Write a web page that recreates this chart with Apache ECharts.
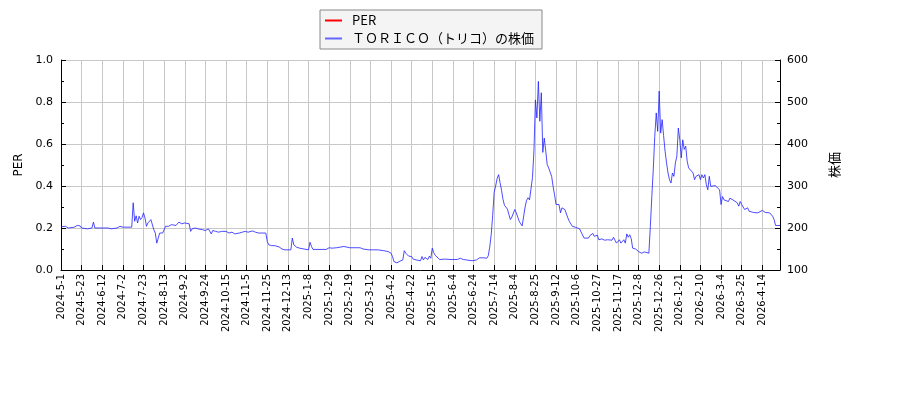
<!DOCTYPE html>
<html>

<head>
    <meta charset="utf-8" />
    <title>ECharts</title>
    <style>
        html, body {
            margin: 0;
            padding: 0;
            background: #fff;
        }
    </style>
</head>

<body>
    <div id="main" style="width: 900px;height:400px;"></div>
</body>
<script src="https://cdn.jsdelivr.net/npm/echarts@6/dist/echarts.min.js"></script>
<script type="text/javascript">
    // tick labels, one every 14 trading days
    var tickLabels = [
        '2024-5-1', '2024-5-23', '2024-6-12', '2024-7-2', '2024-7-23', '2024-8-13',
        '2024-9-2', '2024-9-24', '2024-10-15', '2024-11-5', '2024-11-25', '2024-12-13',
        '2025-1-8', '2025-1-29', '2025-2-19', '2025-3-12', '2025-4-2', '2025-4-22',
        '2025-5-15', '2025-6-4', '2025-6-24', '2025-7-14', '2025-8-4', '2025-8-25',
        '2025-9-12', '2025-10-6', '2025-10-27', '2025-11-17', '2025-12-8', '2025-12-26',
        '2026-1-21', '2026-2-10', '2026-3-4', '2026-3-25', '2026-4-14'
    ];

    // trading-day index of each reading
    var dayIdx = [
        0, 3, 5, 9, 11, 13, 14, 18, 19, 21, 22, 23, 32, 34, 36, 38, 40, 42, 48, 49,
        50, 51, 52, 53, 54, 55, 56, 57, 58, 59, 61, 62, 63, 64, 65, 66, 67, 68, 69, 71,
        73, 75, 78, 80, 82, 84, 87, 88, 89, 91, 93, 96, 98, 100, 102, 103, 105, 107, 109, 112,
        114, 116, 118, 121, 123, 125, 127, 130, 132, 134, 139, 140, 141, 143, 145, 148, 150, 152, 156, 157,
        158, 160, 162, 165, 168, 169, 170, 171, 180, 182, 184, 187, 192, 196, 203, 205, 209, 215, 219, 222,
        224, 225, 226, 227, 228, 229, 230, 231, 232, 233, 234, 235, 236, 237, 238, 239, 241, 244, 245, 246,
        247, 249, 250, 251, 252, 253, 254, 255, 257, 258, 261, 264, 269, 271, 273, 275, 279, 282, 284, 287,
        289, 290, 291, 292, 293, 294, 295, 296, 297, 298, 299, 300, 301, 302, 303, 304, 305, 306, 307, 308,
        309, 310, 311, 312, 313, 314, 315, 316, 317, 318, 319, 320, 321, 322, 323, 324, 325, 326, 327, 328,
        329, 330, 331, 332, 333, 334, 335, 336, 337, 338, 339, 340, 342, 343, 344, 345, 347, 349, 350, 352,
        353, 355, 356, 358, 359, 361, 362, 364, 365, 367, 369, 371, 374, 375, 376, 377, 379, 380, 381, 382,
        383, 384, 385, 386, 387, 388, 390, 391, 392, 394, 396, 397, 399, 400, 401, 402, 403, 404, 405, 406,
        407, 408, 409, 410, 411, 412, 413, 414, 415, 416, 417, 418, 419, 420, 421, 422, 423, 424, 425, 426,
        427, 429, 430, 431, 432, 433, 434, 435, 436, 437, 438, 439, 440, 441, 442, 444, 445, 447, 448, 449,
        450, 451, 453, 454, 456, 457, 459, 460, 461, 462, 463, 464, 466, 467, 468, 470, 471, 473, 474, 476,
        478, 479, 481, 483, 484, 485, 488
    ];

    // stock price (yen)
    var price = [
        203, 204, 200, 202, 206, 205, 200, 198, 200, 200, 214, 200, 200, 198, 199, 200, 204, 202, 202, 260,
        216, 229, 212, 228, 220, 225, 236, 224, 204, 212, 220, 218, 196, 188, 164, 176, 188, 184, 188, 204,
        204, 208, 206, 214, 210, 212, 210, 192, 198, 200, 198, 196, 194, 198, 186, 194, 192, 190, 192, 192,
        188, 190, 186, 188, 190, 192, 190, 193, 190, 188, 188, 168, 160, 158, 158, 155, 150, 148, 148, 176,
        160, 154, 152, 150, 148, 166, 156, 149, 149, 153, 152, 153, 156, 153, 153, 150, 148, 148, 146, 144,
        140, 132, 120, 124, 117, 114, 121, 125, 124, 146, 140, 136, 133, 132, 132, 126, 124, 122, 132, 124,
        130, 125, 133, 128, 152, 141, 135, 132, 125, 128, 126, 125, 125, 128, 125, 124, 122, 124, 129, 129,
        128, 134, 155, 185, 230, 285, 300, 318, 327, 308, 290, 268, 254, 252, 245, 232, 220, 226, 230, 244,
        236, 226, 216, 210, 205, 204, 250, 266, 272, 267, 267, 320, 383, 505, 462, 549, 454, 522, 380, 414,
        383, 351, 343, 339, 323, 299, 279, 256, 260, 256, 236, 248, 244, 240, 224, 216, 204, 202, 198, 198,
        196, 176, 178, 176, 182, 187, 180, 183, 172, 174, 171, 172, 171, 178, 171, 164, 172, 164, 166, 172,
        164, 186, 178, 184, 175, 152, 150, 148, 144, 140, 143, 140, 140, 204, 275, 340, 418, 474, 430, 526,
        426, 458, 420, 383, 355, 331, 315, 307, 331, 323, 355, 371, 438, 410, 367, 410, 387, 395, 359, 343,
        339, 331, 315, 323, 319, 327, 315, 327, 319, 327, 303, 291, 323, 299, 298, 301, 303, 291, 256, 275,
        267, 271, 263, 271, 267, 271, 260, 252, 263, 256, 260, 244, 248, 240, 237, 237, 240, 236, 240, 242,
        237, 240, 236, 228, 220, 206, 206
    ];

    var perData = [];

    var priceData = dayIdx.map(function (d, i) {
        return [d, price[i]];
    });

    var chartDom = document.getElementById('main');
    var myChart = echarts.init(chartDom);
    var option;

    var gridColor = '#c8c8c8';
    var baseFont = 'DejaVu Sans';
    var jpFont = 'Noto Sans CJK JP';

    option = {
        animation: false,
        backgroundColor: '#fff',
        grid: {
            left: 61,
            right: 120,
            top: 60,
            bottom: 130
        },
        legend: {
            orient: 'vertical',
            left: 320,
            top: 10,
            padding: [4, 8, 4, 5],
            itemGap: 5,
            itemWidth: 17,
            itemHeight: 2,
            icon: 'rect',
            backgroundColor: '#f4f4f4',
            borderColor: '#888',
            borderWidth: 1,
            borderRadius: 0,
            textStyle: {
                fontFamily: jpFont,
                fontSize: 13,
                color: '#000',
                padding: [0, 0, 0, 5]
            },
            data: [
                { name: 'PER', itemStyle: { color: '#ff0000' } },
                { name: 'ＴＯＲＩＣＯ（トリコ）の株価', itemStyle: { color: '#6666ff' } }
            ]
        },
        xAxis: {
            type: 'value',
            min: 0,
            max: 488,
            interval: 14,
            axisLine: { show: true, lineStyle: { color: '#000', width: 1 } },
            axisTick: { show: true, inside: true, length: 5, lineStyle: { color: '#000' } },
            axisLabel: {
                rotate: 90,
                margin: 4,
                fontSize: 10,
                fontFamily: baseFont,
                color: '#000',
                showMaxLabel: false,
                formatter: function (v) {
                    return v % 14 === 0 ? (tickLabels[v / 14] || '') : '';
                }
            },
            splitLine: { show: true, lineStyle: { color: gridColor, width: 1 } }
        },
        yAxis: [
            {
                type: 'value',
                name: 'PER',
                nameLocation: 'middle',
                nameGap: 36,
                nameRotate: 90,
                nameTextStyle: { fontFamily: baseFont, fontSize: 12, color: '#000' },
                min: 0,
                max: 1,
                interval: 0.2,
                axisLine: { show: true, lineStyle: { color: '#000', width: 1 } },
                axisTick: { show: true, inside: true, length: 5, lineStyle: { color: '#000' } },
                minorTick: { show: true, splitNumber: 2, length: 3, lineStyle: { color: '#000' } },
                axisLabel: {
                    margin: 8,
                    fontSize: 11,
                    fontFamily: baseFont,
                    color: '#000',
                    formatter: function (v) {
                        return v.toFixed(1);
                    }
                },
                splitLine: { show: true, lineStyle: { color: gridColor, width: 1 } }
            },
            {
                type: 'value',
                name: '株価',
                nameLocation: 'middle',
                nameGap: 48,
                nameRotate: 90,
                nameTextStyle: { fontFamily: jpFont, fontSize: 13, color: '#000' },
                position: 'right',
                min: 100,
                max: 600,
                interval: 100,
                axisLine: { show: true, lineStyle: { color: '#000', width: 1 } },
                axisTick: { show: true, inside: true, length: 5, lineStyle: { color: '#000' } },
                minorTick: { show: true, splitNumber: 2, length: 3, lineStyle: { color: '#000' } },
                axisLabel: {
                    margin: 7,
                    fontSize: 11,
                    fontFamily: baseFont,
                    color: '#000'
                },
                splitLine: { show: false }
            }
        ],
        series: [
            {
                name: 'PER',
                type: 'line',
                yAxisIndex: 0,
                showSymbol: false,
                color: '#ff0000',
                lineStyle: { width: 1 },
                data: perData
            },
            {
                name: 'ＴＯＲＩＣＯ（トリコ）の株価',
                type: 'line',
                yAxisIndex: 1,
                showSymbol: false,
                color: '#0000ff',
                lineStyle: { width: 0.8, color: '#2020ff' },
                data: priceData
            }
        ]
    };

    option && myChart.setOption(option);

</script>

</html>
